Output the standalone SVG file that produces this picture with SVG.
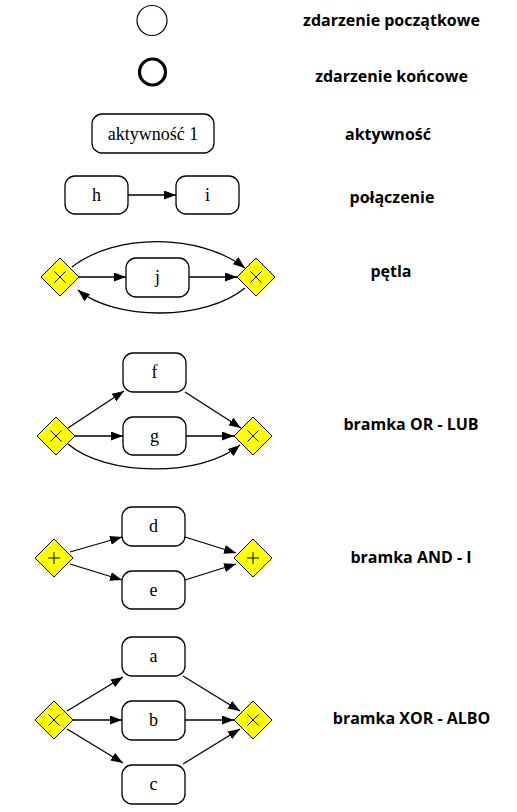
<svg xmlns="http://www.w3.org/2000/svg" width="517" height="812" viewBox="0 0 517 812">
<style>
.box{fill:#fff;stroke:#000;stroke-width:1.3}
.gw{fill:#ffff00;stroke:#000;stroke-width:1}
.mk{fill:none;stroke:#000;stroke-width:1}
.e{fill:none;stroke:#000;stroke-width:1.3;marker-end:url(#arr)}
.t{font-family:"Liberation Serif","Times New Roman",serif;font-size:18px;text-anchor:middle;fill:#000}
.lbl{font-family:"Open Sans","DejaVu Sans",sans-serif;font-weight:bold;font-size:16px;text-anchor:middle;fill:#000}
</style>
<defs>
<marker id="arr" markerUnits="userSpaceOnUse" markerWidth="12" markerHeight="9" refX="12" refY="4.5" orient="auto">
<path d="M0,0 L12,4.5 L0,9 z" fill="#000"/>
</marker>
<path id="dia" d="M0,-19 L19,0 L0,19 L-19,0 z"/>
</defs>
<rect width="517" height="812" fill="#fff"/>

<g id="start"><circle cx="152" cy="20.5" r="15" fill="#fff" stroke="#000" stroke-width="1.2"/></g>
<g id="end"><circle cx="152.5" cy="72" r="13" fill="#fff" stroke="#000" stroke-width="3.2"/></g>
<g id="act1"><rect class="box" x="92" y="114" width="122" height="39" rx="10"/><text class="t" x="153" y="140">aktywność 1</text></g>

<g id="h"><rect class="box" x="65" y="176" width="63" height="38" rx="10"/><text class="t" x="96.5" y="201">h</text></g>
<g id="i"><rect class="box" x="176" y="176" width="63" height="38" rx="10"/><text class="t" x="207.5" y="201">i</text></g>

<g id="loopL"><use href="#dia" class="gw" x="60" y="277"/><path class="mk" d="M54.5,271.5 L65.5,282.5 M65.5,271.5 L54.5,282.5"/></g>
<g id="j"><rect class="box" x="126" y="258" width="63" height="39" rx="10"/><text class="t" x="157.5" y="283">j</text></g>
<g id="loopR"><use href="#dia" class="gw" x="256" y="277"/><path class="mk" d="M250.5,271.5 L261.5,282.5 M261.5,271.5 L250.5,282.5"/></g>

<g id="orL"><use href="#dia" class="gw" x="56" y="436"/><path class="mk" d="M50.5,430.5 L61.5,441.5 M61.5,430.5 L50.5,441.5"/></g>
<g id="f"><rect class="box" x="123" y="353" width="63" height="39" rx="10"/><text class="t" x="154.5" y="378">f</text></g>
<g id="g"><rect class="box" x="123" y="417" width="63" height="38" rx="10"/><text class="t" x="154.5" y="442">g</text></g>
<g id="orR"><use href="#dia" class="gw" x="253" y="436"/><path class="mk" d="M247.5,430.5 L258.5,441.5 M258.5,430.5 L247.5,441.5"/></g>

<g id="andL"><use href="#dia" class="gw" x="54" y="558"/><path class="mk" d="M54,552 L54,564 M48,558 L60,558"/></g>
<g id="d"><rect class="box" x="122" y="507" width="63" height="39" rx="10"/><text class="t" x="153.5" y="532">d</text></g>
<g id="e"><rect class="box" x="122" y="571" width="63" height="38" rx="10"/><text class="t" x="153.5" y="596">e</text></g>
<g id="andR"><use href="#dia" class="gw" x="253" y="558"/><path class="mk" d="M253,552 L253,564 M247,558 L259,558"/></g>

<g id="xorL"><use href="#dia" class="gw" x="54" y="720"/><path class="mk" d="M48.5,714.5 L59.5,725.5 M59.5,714.5 L48.5,725.5"/></g>
<g id="a"><rect class="box" x="122" y="637" width="63" height="39" rx="10"/><text class="t" x="153.5" y="662">a</text></g>
<g id="b"><rect class="box" x="122" y="701" width="63" height="39" rx="10"/><text class="t" x="153.5" y="726">b</text></g>
<g id="c"><rect class="box" x="122" y="765" width="63" height="39" rx="10"/><text class="t" x="153.5" y="790">c</text></g>
<g id="xorR"><use href="#dia" class="gw" x="253" y="720"/><path class="mk" d="M247.5,714.5 L258.5,725.5 M258.5,714.5 L247.5,725.5"/></g>

<g id="connectors">
<path class="e" d="M128,195 L176,195"/>
<path class="e" d="M79,277 L126,277"/>
<path class="e" d="M189,277 L237,277"/>
<path class="e" d="M72,267 C115,233 200,233 245,268"/>
<path class="e" d="M245,288 C205,321 115,321 78,290"/>

<path class="e" d="M68,428 L124,391"/>
<path class="e" d="M185,392 L241,428"/>
<path class="e" d="M75,436 L123,436"/>
<path class="e" d="M186,436 L234,436"/>
<path class="e" d="M68,444 C105,476 200,478 240,445"/>

<path class="e" d="M70,552 L122,537"/>
<path class="e" d="M70,564 L122,580"/>
<path class="e" d="M185,537 L236,553"/>
<path class="e" d="M185,580 L236,564"/>

<path class="e" d="M67,711 L123,677"/>
<path class="e" d="M73,720 L122,720"/>
<path class="e" d="M67,729 L123,763"/>
<path class="e" d="M183,676 L240,711"/>
<path class="e" d="M185,720 L234,720"/>
<path class="e" d="M183,764 L240,729"/>
</g>

<g id="labels">
<text class="lbl" x="391.5" y="26">zdarzenie początkowe</text>
<text class="lbl" x="391.5" y="82">zdarzenie końcowe</text>
<text class="lbl" x="388" y="140">aktywność</text>
<text class="lbl" x="392" y="203">połączenie</text>
<text class="lbl" x="391" y="277">pętla</text>
<text class="lbl" x="411" y="430">bramka OR - LUB</text>
<text class="lbl" x="411" y="563">bramka AND - I</text>
<text class="lbl" x="411.5" y="724">bramka XOR - ALBO</text>
</g>
</svg>
